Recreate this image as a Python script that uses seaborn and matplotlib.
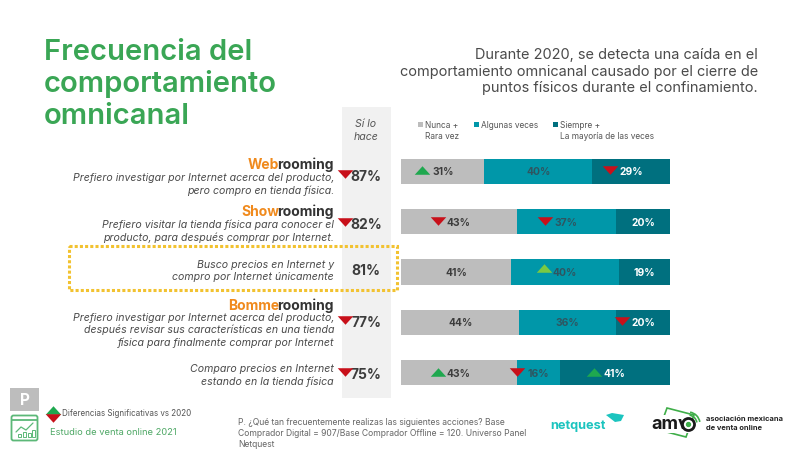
import matplotlib
matplotlib.use("Agg")
import matplotlib.pyplot as plt
from matplotlib.patches import Arc, Polygon, Rectangle, FancyBboxPatch
import pandas as pd
import seaborn as sns

# data
rows = ["Webrooming", "Showrooming", "Busco", "Bommerooming", "Comparo"]
nunca = [31, 43, 41, 44, 43]
algunas = [40, 37, 40, 36, 16]
siempre = [29, 20, 19, 20, 41]
si_hace = ["87%", "82%", "81%", "77%", "75%"]
# significance flags: 1 up, -1 down, 2 up (light), 0 none
flag_nunca = [1, -1, 0, 0, 1]
flag_algunas = [0, -1, 2, 0, -1]
flag_siempre = [-1, 0, 0, -1, 1]
flag_hace = [-1, -1, 0, -1, -1]

GRAY = "#bdbdbd"
TEAL = "#0097a9"
DARK = "#00707f"
GREEN = "#3aa655"
RED = "#c8101a"
UP = "#1fa84f"
UP_LIGHT = "#7ac943"
ORANGE = "#f08a1d"
TXT = "#3c3c3c"

sns.set_theme(style="white")
plt.rcParams["font.family"] = ["Inter", "DejaVu Sans"]

fig = plt.figure(figsize=(8, 4.52), dpi=100, facecolor="white")

# background axes in pixels, for text and decoration
bg = fig.add_axes([0, 0, 1, 1], zorder=0)
bg.set_xlim(0, 800)
bg.set_ylim(452, 0)
bg.axis("off")

# stacked bars
W, H = 800, 452
ax = fig.add_axes([401 / W, 1 - 399 / H, 269 / W, 252 / H], zorder=1)
ax.patch.set_alpha(0)
df = pd.DataFrame({"row": rows, "nunca": nunca, "algunas": algunas, "siempre": siempre})
df["c1"] = df["nunca"]
df["c2"] = df["c1"] + df["algunas"]
df["c3"] = df["c2"] + df["siempre"]
for col, color in [("c3", DARK), ("c2", TEAL), ("c1", GRAY)]:
    sns.barplot(data=df, x=col, y="row", color=color, saturation=1, width=0.5,
                linewidth=0, ax=ax)
ax.set_xlim(0, 100)
ax.set_ylim(4.5, -0.5)
ax.axis("off")


def tri(axis, x, y, flag, size=125):
    color = RED if flag < 0 else (UP_LIGHT if flag == 2 else UP)
    marker = [(-1, 0.55), (1, 0.55), (0, -0.55)] if flag < 0 else [(-1, -0.55), (1, -0.55), (0, 0.55)]
    axis.scatter([x], [y], marker=marker, s=size, color=color,
                 linewidths=0, zorder=5, clip_on=False)


for i in range(len(rows)):
    starts = [0, nunca[i], nunca[i] + algunas[i]]
    vals = [nunca[i], algunas[i], siempre[i]]
    flags = [flag_nunca[i], flag_algunas[i], flag_siempre[i]]
    cols = [TXT, "#2f5560", "white"]
    for s, v, f, c in zip(starts, vals, flags, cols):
        mid = s + v / 2
        ax.text(mid, i, f"{v}%", ha="center", va="center", fontsize=7.4,
                fontweight="bold", color=c, zorder=6)
        if f:
            tri(ax, mid - 7.8, i - (0.08 if f == 2 else 0.02), f)

# title
bg.text(44, 52, "Frecuencia del", fontsize=21, fontweight="semibold", color=GREEN, va="center")
bg.text(44, 84, "comportamiento", fontsize=21, fontweight="semibold", color=GREEN, va="center")
bg.text(44, 116, "omnicanal", fontsize=21, fontweight="semibold", color=GREEN, va="center")

for y, line in zip([55, 72, 88], ["Durante 2020, se detecta una caída en el",
                                  "comportamiento omnicanal causado por el cierre de",
                                  "puntos físicos durante el confinamiento."]):
    bg.text(758, y, line, fontsize=10.45, color="#4a4a4a", ha="right", va="center")

# si lo hace column
bg.add_patch(Rectangle((342, 108), 49, 291, color="#f1f1f1", lw=0))
bg.text(366, 124, "Sí lo", fontsize=7.6, style="italic", color="#555555", ha="center", va="center")
bg.text(366, 137, "hace", fontsize=7.6, style="italic", color="#555555", ha="center", va="center")
hace_y = [177, 225, 271, 323, 375]
for y, v, f in zip(hace_y, si_hace, flag_hace):
    bg.text(366, y, v, fontsize=10, fontweight="bold", color=TXT, ha="center", va="center")
    if f:
        tri(bg, 345, y - 2, f)

# legend
for x, color in [(420, GRAY), (476, TEAL), (555, DARK)]:
    bg.add_patch(Rectangle((x - 2.5, 122.5), 5, 5, color=color, lw=0))
leg_kw = dict(fontsize=6.0, color="#555555", va="center")
bg.text(425, 125, "Nunca +", **leg_kw)
bg.text(425, 137, "Rara vez", **leg_kw)
bg.text(481, 125, "Algunas veces", **leg_kw)
bg.text(560, 125, "Siempre +", **leg_kw)
bg.text(560, 137, "La mayoría de las veces", **leg_kw)


# row descriptions
def heading(y, head, tail):
    t = bg.text(334, y, tail, fontsize=10, fontweight="bold", color="#333333", ha="right", va="center")
    fig.canvas.draw()
    box = t.get_window_extent().transformed(bg.transData.inverted())
    bg.text(box.x0 + 2, y, head, fontsize=10, fontweight="bold", color=ORANGE, ha="right", va="center")


heading(165, "Web", "rooming")
heading(212, "Show", "rooming")
heading(306, "Bomme", "rooming")

desc = [
    (178, "Prefiero investigar por Internet acerca del producto,"),
    (191, "pero compro en tienda física."),
    (225, "Prefiero visitar la tienda física para conocer el"),
    (238, "producto, para después comprar por Internet."),
    (265, "Busco precios en Internet y"),
    (277, "compro por Internet únicamente"),
    (318, "Prefiero investigar por Internet acerca del producto,"),
    (330, "después revisar sus características en una tienda"),
    (343, "física para finalmente comprar por Internet"),
    (369, "Comparo precios en Internet"),
    (382, "estando en la tienda física"),
]
for y, line in desc:
    bg.text(334, y, line, fontsize=7.6, style="italic", color="#4a4a4a", ha="right", va="center")

# dotted highlight
bg.add_patch(Rectangle((69, 247), 328, 44, fill=False, edgecolor="#f2c230", lw=2.2,
                       linestyle=(0, (1, 0.7)), zorder=4))

# footer left
bg.add_patch(Rectangle((10, 389), 29, 23, color=GRAY, lw=0))
bg.text(24.5, 400.5, "P", fontsize=11, fontweight="bold", color="white", ha="center", va="center")
bg.add_patch(FancyBboxPatch((12, 417), 25, 24, boxstyle="round,pad=0.5,rounding_size=2",
                            fill=False, edgecolor="#5cb878", lw=1.3))
bg.plot([12, 37], [421, 421], color="#5cb878", lw=1.3)
bg.plot([16, 21, 26, 33], [433, 428, 431, 424], color="#5cb878", lw=0.9)
for x, h in [(18, 3), (23, 5), (28, 4), (32, 7)]:
    bg.add_patch(Rectangle((x, 438 - h), 2.5, h, fill=False, edgecolor="#5cb878", lw=0.7))
tri(bg, 53, 410.5, 1)
tri(bg, 53, 419, -1)
bg.text(62, 414, "Diferencias Significativas vs 2020", fontsize=5.8, color="#555555", va="center")
bg.text(50, 433, "Estudio de venta online 2021", fontsize=6.7, color="#4fa866", va="center")

# footnote
for y, line in zip([423, 434, 445], ["P. ¿Qué tan frecuentemente realizas las siguientes acciones? Base",
                                     "Comprador Digital = 907/Base Comprador Offline = 120. Universo Panel",
                                     "Netquest"]):
    bg.text(238, y, line, fontsize=6.2, color="#666666", va="center")

# logos
bg.text(550, 426, "netquest", fontsize=9.2, fontweight="bold", color="#1cc4bf", va="center")
bg.add_patch(Polygon([[606, 416], [612, 414], [624, 416], [621, 422], [615, 423]], color="#1cc4bf", lw=0))
bg.add_patch(Polygon([[667, 409], [694, 416], [686, 438], [659, 431]], fill=False, edgecolor="#3fae49", lw=1.2))
bg.text(651, 425, "amv", fontsize=13, fontweight="bold", color="#1a1a1a", va="center",
        bbox=dict(facecolor="white", edgecolor="none", pad=0.5))
bg.scatter([688], [425], s=75, facecolor="white", edgecolor="#1a1a1a", linewidths=2, zorder=5)
bg.scatter([688], [425], s=8, color="#3fae49", zorder=6)
for d in [18, 24]:
    bg.add_patch(Arc((688, 425), d, d, theta1=-80, theta2=-10, color="#3fae49", lw=1.2, zorder=6))
bg.text(706, 419, "asociación mexicana", fontsize=5.4, fontweight="bold", color="#222222", va="center")
bg.text(706, 428, "de venta online", fontsize=5.4, fontweight="bold", color="#222222", va="center")

fig.savefig("out.png", dpi=100, facecolor="white")
